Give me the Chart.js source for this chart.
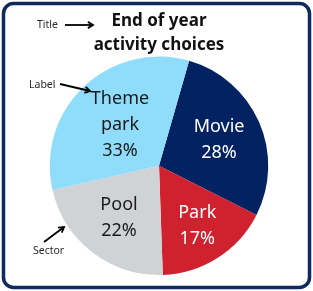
<!DOCTYPE html>
<html>
<head>
<meta charset="utf-8">
<script src="https://cdn.jsdelivr.net/npm/chart.js@4"></script>
<style>
  html, body { margin: 0; padding: 0; background: #fff; }
  #wrap { width: 313px; height: 291px; position: relative; }
</style>
</head>
<body>
<div id="wrap"><canvas id="pie"></canvas></div>
<script>
const categories = ['Movie', 'Park', 'Pool', 'Theme park'];
const shares = [28, 17, 22, 33];
const sliceColors = ['#032262', '#d0212e', '#d0d3d6', '#8fdcfb'];
const labelColors = ['#ffffff', '#ffffff', '#1a1a1a', '#1a1a1a'];
const labelLines = [['Movie'], ['Park'], ['Pool'], ['Theme', 'park']];
const titleLines = ['End of year', 'activity choices'];

// radial position of each label, as a fraction of the radius
const labelRadius = [0.6, 0.65, 0.6, 0.52];

const frame = {
  id: 'frame',
  beforeDraw(chart) {
    const c = chart.ctx;
    c.save();
    c.fillStyle = '#fff';
    c.fillRect(0, 0, chart.width, chart.height);
    c.strokeStyle = '#0f2a5e';
    c.lineWidth = 3.5;
    c.beginPath();
    c.roundRect(3.5, 3.5, chart.width - 7, chart.height - 7, 10);
    c.stroke();
    c.restore();
  }
};

const sliceLabels = {
  id: 'sliceLabels',
  afterDatasetsDraw(chart) {
    const c = chart.ctx;
    const meta = chart.getDatasetMeta(0);
    c.save();
    c.font = '18px "Noto Sans"';
    c.textAlign = 'center';
    c.textBaseline = 'middle';
    meta.data.forEach((arc, i) => {
      const p = arc.getProps(['x', 'y', 'startAngle', 'endAngle', 'outerRadius'], true);
      const mid = (p.startAngle + p.endAngle) / 2;
      const r = p.outerRadius * labelRadius[i];
      const cx = p.x + Math.cos(mid) * r;
      const cy = p.y + Math.sin(mid) * r;
      const lines = labelLines[i].concat([shares[i] + '%']);
      const lh = 26;
      const y0 = cy - (lines.length - 1) * lh / 2;
      c.fillStyle = labelColors[i];
      lines.forEach((t, k) => c.fillText(t, cx, y0 + k * lh));
    });
    c.restore();
  }
};

function arrow(c, x1, y1, x2, y2) {
  const a = Math.atan2(y2 - y1, x2 - x1);
  c.beginPath();
  c.moveTo(x1, y1);
  c.lineTo(x2, y2);
  c.stroke();
  c.beginPath();
  c.moveTo(x2 - 6 * Math.cos(a - 0.55), y2 - 6 * Math.sin(a - 0.55));
  c.lineTo(x2, y2);
  c.lineTo(x2 - 6 * Math.cos(a + 0.55), y2 - 6 * Math.sin(a + 0.55));
  c.stroke();
}

const callouts = {
  id: 'callouts',
  afterDraw(chart) {
    const c = chart.ctx;
    c.save();
    c.fillStyle = '#2a2a2a';
    c.strokeStyle = '#000';
    c.lineWidth = 1.8;
    c.font = '10.5px "Noto Sans"';
    c.textBaseline = 'middle';
    c.textAlign = 'left';
    c.fillText('Title', 37, 25);
    c.fillText('Label', 29, 85);
    c.fillText('Sector', 33, 251);
    arrow(c, 65, 25, 93, 25);
    arrow(c, 60, 84, 90, 91);
    arrow(c, 44, 242, 64, 227);
    c.restore();
  }
};

new Chart(document.getElementById('pie'), {
  type: 'pie',
  data: {
    labels: categories,
    datasets: [{
      data: shares,
      backgroundColor: sliceColors,
      borderWidth: 0
    }]
  },
  options: {
    responsive: true,
    maintainAspectRatio: false,
    animation: false,
    rotation: 16,
    layout: { padding: { top: 0, bottom: 16, left: 49, right: 44 } },
    plugins: {
      legend: { display: false },
      tooltip: { enabled: false },
      title: {
        display: true,
        text: titleLines,
        color: '#111',
        font: { family: '"Noto Sans"', size: 17, weight: 'bold', lineHeight: 1.4 },
        padding: { top: 9, bottom: 0 }
      }
    }
  },
  plugins: [frame, sliceLabels, callouts]
});
</script>
</body>
</html>
